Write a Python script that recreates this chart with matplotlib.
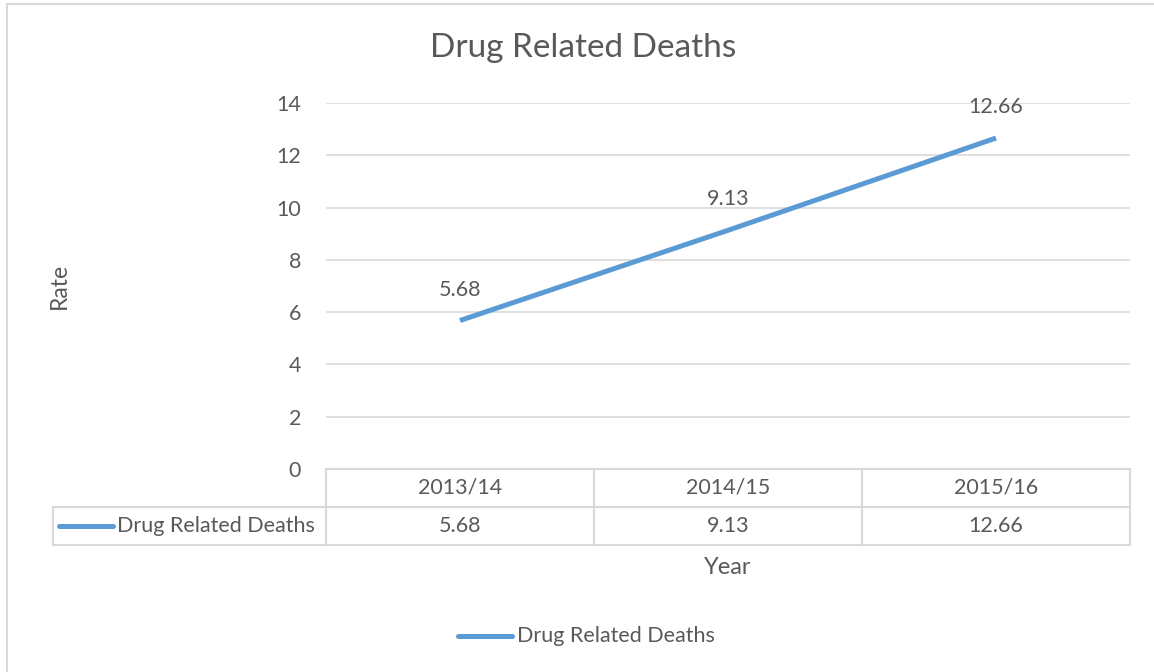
import matplotlib
matplotlib.use("Agg")
import matplotlib.pyplot as plt
from matplotlib.lines import Line2D

plt.rcParams['font.family'] = ['Lato', 'DejaVu Sans']

years = ["2013/14", "2014/15", "2015/16"]
deaths = [5.68, 9.13, 12.66]
series_name = "Drug Related Deaths"
y_ticks = [0, 2, 4, 6, 8, 10, 12, 14]

TXT = '#595959'
BLUE = '#5B9BD5'
GRID = '#D9D9D9'
FS = 15.5

W, H = 1154, 672
fig = plt.figure(figsize=(W / 100, H / 100), dpi=100)

# plot area in pixels: x 326..1130, y 103..469
x0, x1, y0, y1 = 326, 1130, 103, 469
ax = fig.add_axes([x0 / W, 1 - y1 / H, (x1 - x0) / W, (y1 - y0) / H])

xs = list(range(len(years)))
ax.plot(xs, deaths, color=BLUE, lw=3.6, solid_capstyle='butt', zorder=3)
for x, v in zip(xs, deaths):
    ax.annotate(f"{v:.2f}", (x, v), xytext=(0, 15), textcoords='offset points',
                ha='center', va='bottom', fontsize=FS, color=TXT)

ax.set_xlim(-0.5, len(years) - 0.5)
ax.set_ylim(0, 14)
ax.set_yticks(y_ticks)
ax.yaxis.grid(True, color=GRID, lw=1.2)
ax.set_axisbelow(True)
ax.tick_params(axis='y', length=0, pad=18, labelsize=FS, labelcolor=TXT)
ax.set_xticks([])
for s in ax.spines.values():
    s.set_visible(False)

ax.set_ylabel("Rate", fontsize=FS + 1, color=TXT, labelpad=0)
ax.yaxis.set_label_coords((70 - x0) / (x1 - x0), 0.5)

# data table below the plot, in axes coordinates
tr = ax.transAxes
row_h = 38 / (y1 - y0)
leg_x = (53 - x0) / (x1 - x0)
n = len(years)
col_w = 1 / n
kw = dict(transform=tr, color=GRID, lw=1.5, clip_on=False)

ax.add_line(Line2D([0, 1], [0, 0], **kw))
ax.add_line(Line2D([leg_x, 1], [-row_h, -row_h], **kw))
ax.add_line(Line2D([leg_x, 1], [-2 * row_h, -2 * row_h], **kw))
ax.add_line(Line2D([leg_x, leg_x], [-row_h, -2 * row_h], **kw))
for i in range(n + 1):
    ax.add_line(Line2D([i * col_w, i * col_w], [0, -2 * row_h], **kw))
for i, (yr, v) in enumerate(zip(years, deaths)):
    cx = (i + 0.5) * col_w
    ax.text(cx, -0.5 * row_h, yr, transform=tr, ha='center', va='center',
            fontsize=FS, color=TXT)
    ax.text(cx, -1.5 * row_h, f"{v:.2f}", transform=tr, ha='center', va='center',
            fontsize=FS, color=TXT)

# legend key inside the table
lk0 = (59 - x0) / (x1 - x0)
lk1 = (113 - x0) / (x1 - x0)
ax.add_line(Line2D([lk0, lk1], [-1.5 * row_h, -1.5 * row_h], transform=tr,
                   color=BLUE, lw=3.6, solid_capstyle='round', clip_on=False))
ax.text((117 - x0) / (x1 - x0), -1.5 * row_h, series_name, transform=tr,
        ha='left', va='center', fontsize=FS, color=TXT)

# axis title, chart title, legend
fig.text(728 / W, 1 - 567 / H, "Year", ha='center', va='center', fontsize=17, color=TXT)
fig.text(583 / W, 1 - 48 / H, series_name, ha='center', va='center', fontsize=24, color=TXT)
fig.add_artist(Line2D([458 / W, 512 / W], [1 - 636 / H, 1 - 636 / H], color=BLUE,
                      lw=3.6, solid_capstyle='round'))
fig.text(517 / W, 1 - 636 / H, series_name, ha='left', va='center', fontsize=FS, color=TXT)

# chart border (left and top edges visible)
fig.add_artist(Line2D([7 / W, 7 / W], [0, 1 - 4 / H], color=GRID, lw=1.5))
fig.add_artist(Line2D([7 / W, 1], [1 - 4 / H, 1 - 4 / H], color=GRID, lw=1.5))

fig.savefig("out.png", dpi=100, facecolor='white')
